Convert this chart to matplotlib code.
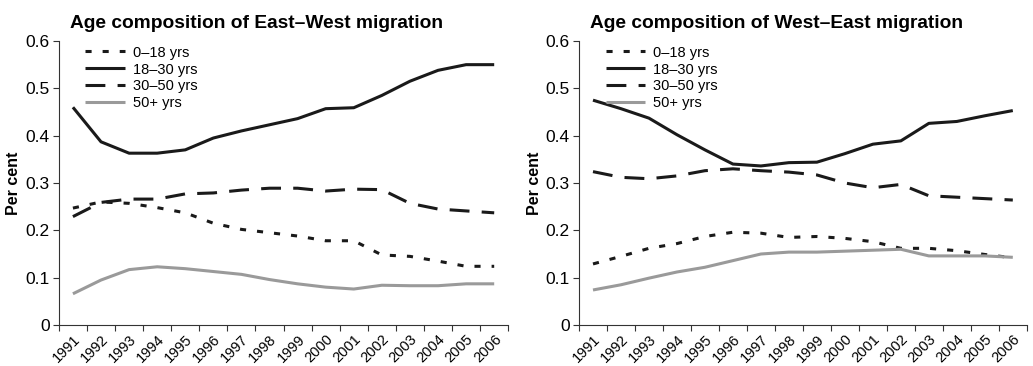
import numpy as np
import matplotlib.pyplot as plt
from matplotlib.ticker import FixedLocator, NullFormatter

plt.rcParams["font.family"] = ["Liberation Sans", "DejaVu Sans"]

years = [str(y) for y in range(1991, 2007)]
series_labels = ["0\u201318 yrs", "18\u201330 yrs", "30\u201350 yrs", "50+ yrs"]

# East-West migration shares by age group
ew_0_18 = [0.247, 0.260, 0.257, 0.248, 0.237, 0.215, 0.202, 0.195, 0.188, 0.178, 0.178, 0.148, 0.145, 0.135, 0.124, 0.124]
ew_18_30 = [0.460, 0.387, 0.363, 0.363, 0.370, 0.395, 0.410, 0.423, 0.436, 0.457, 0.459, 0.485, 0.515, 0.538, 0.550, 0.550]
ew_30_50 = [0.229, 0.259, 0.266, 0.266, 0.277, 0.279, 0.285, 0.289, 0.289, 0.283, 0.287, 0.286, 0.257, 0.245, 0.241, 0.237]
ew_50p = [0.066, 0.095, 0.117, 0.123, 0.119, 0.113, 0.107, 0.096, 0.087, 0.080, 0.076, 0.084, 0.083, 0.083, 0.087, 0.087]

# West-East migration shares by age group
we_0_18 = [0.129, 0.145, 0.162, 0.172, 0.187, 0.196, 0.194, 0.185, 0.187, 0.183, 0.176, 0.162, 0.162, 0.157, 0.149, 0.142]
we_18_30 = [0.475, 0.457, 0.437, 0.402, 0.370, 0.340, 0.336, 0.343, 0.344, 0.362, 0.382, 0.389, 0.426, 0.430, 0.442, 0.453]
we_30_50 = [0.324, 0.312, 0.309, 0.315, 0.326, 0.330, 0.326, 0.323, 0.317, 0.300, 0.290, 0.297, 0.273, 0.270, 0.267, 0.264]
we_50p = [0.074, 0.085, 0.099, 0.112, 0.122, 0.136, 0.150, 0.154, 0.154, 0.156, 0.158, 0.160, 0.146, 0.146, 0.146, 0.143]

# dash patterns are in multiples of the line width
styles = [
    dict(color="#1a1a1a", dashes=(2.0, 3.6)),
    dict(color="#1a1a1a"),
    dict(color="#1a1a1a", dashes=(6.5, 4.0)),
    dict(color="#9a9a9a"),
]


def draw(ax, title, data):
    x = np.arange(len(years))
    for vals, lab, st in zip(data, series_labels, styles):
        ax.plot(x, vals, lw=2.2, label=lab, solid_capstyle="butt", **st)
    ax.set_title(title, fontsize=13.8, fontweight="bold", loc="left", x=0.025, pad=9)
    ax.set_ylim(0, 0.6)
    ax.set_xlim(-0.5, len(years) - 0.5)
    ax.set_yticks([0, 0.1, 0.2, 0.3, 0.4, 0.5, 0.6])
    ax.set_yticklabels(["0", "0.1", "0.2", "0.3", "0.4", "0.5", "0.6"])
    ax.xaxis.set_major_locator(FixedLocator(np.arange(len(years) + 1) - 0.5))
    ax.xaxis.set_major_formatter(NullFormatter())
    ax.set_xticks(x, minor=True)
    ax.set_xticklabels(years, minor=True, rotation=45, ha="right", rotation_mode="anchor")
    ax.tick_params(axis="x", which="minor", length=0, labelsize=10.5, pad=5)
    ax.tick_params(axis="x", which="major", length=4, color="#333333")
    ax.tick_params(axis="y", labelsize=12.5, length=4, pad=2.5, color="#333333")
    ax.spines["top"].set_visible(False)
    ax.spines["right"].set_visible(False)
    ax.spines["left"].set_color("#333333")
    ax.spines["bottom"].set_color("#333333")
    ax.set_ylabel("Per cent", fontsize=11.5, fontweight="bold", labelpad=3)
    ax.legend(loc="upper left", bbox_to_anchor=(0.03, 1.03), frameon=False, fontsize=10.5,
              handlelength=2.7, labelspacing=0.2, handletextpad=0.55)


fig = plt.figure(figsize=(10.33, 3.66), dpi=100)
ax1 = fig.add_axes([0.057, 0.112, 0.435, 0.776])
ax2 = fig.add_axes([0.5605, 0.112, 0.4335, 0.776])
draw(ax1, "Age composition of East\u2013West migration", [ew_0_18, ew_18_30, ew_30_50, ew_50p])
draw(ax2, "Age composition of West\u2013East migration", [we_0_18, we_18_30, we_30_50, we_50p])
fig.savefig("out.png", dpi=100)
